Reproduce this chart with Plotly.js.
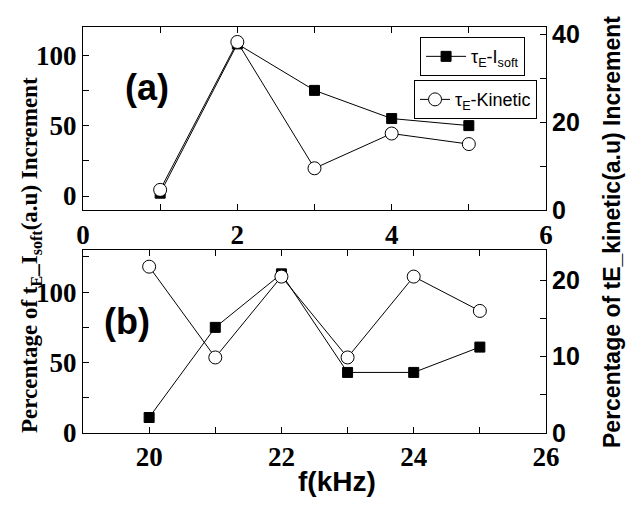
<!DOCTYPE html>
<html>
<head>
<meta charset="utf-8">
<script src="https://cdn.plot.ly/plotly-3.0.1.min.js"></script>
<style>html,body{margin:0;padding:0;background:#fff;}#chart{width:630px;height:506px;}</style>
</head>
<body>
<div id="chart"></div>
<script>
// Panel (a)
const freqA = [1, 2, 3, 4, 5];
const isoftA = [2, 108, 75, 55, 50];
const kineticA = [4.6, 38.2, 9.5, 17.4, 15];
// Panel (b)
const freqB = [20, 21, 22, 23, 24, 25];
const isoftB = [11, 75, 113, 43, 43, 61];
const kineticB = [21.8, 9.9, 20.5, 9.9, 20.5, 16];

const sansFam = 'Liberation Sans, Arial, sans-serif';
const serifFam = 'Liberation Serif, Times New Roman, serif';

const serifBold = {family: serifFam, size: 27, color: '#000', weight: 'bold'};
const sansBold = {family: sansFam, size: 25, color: '#000', weight: 'bold'};

const lineStyle = {color: '#000', width: 1};
const sqMarker = {symbol: 'square', size: 10, color: '#000', line: {color: '#000', width: 1}};
const ciMarker = {symbol: 'circle', size: 13, color: '#fff', line: {color: '#000', width: 1}};

const traces = [
  {x: freqA, y: isoftA, xaxis: 'x', yaxis: 'y', mode: 'lines+markers', line: lineStyle, marker: sqMarker,
   name: '\u03c4<sub>E</sub>-I<sub>soft</sub>', legend: 'legend', showlegend: true},
  {x: freqA, y: kineticA, xaxis: 'x', yaxis: 'y2', mode: 'lines+markers', line: lineStyle, marker: ciMarker,
   name: '\u03c4<sub>E</sub>-Kinetic', legend: 'legend2', showlegend: true},
  {x: freqB, y: isoftB, xaxis: 'x2', yaxis: 'y3', mode: 'lines+markers', line: lineStyle, marker: sqMarker, showlegend: false},
  {x: freqB, y: kineticB, xaxis: 'x2', yaxis: 'y4', mode: 'lines+markers', line: lineStyle, marker: ciMarker, showlegend: false}
];

const axBase = {showline: true, linecolor: '#000', linewidth: 1, ticks: 'inside', ticklen: 6, tickcolor: '#000',
  showgrid: false, zeroline: false, fixedrange: true};

const layout = {
  width: 630, height: 506,
  margin: {l: 83, r: 84, t: 27, b: 73},
  paper_bgcolor: '#fff', plot_bgcolor: '#fff',
  showlegend: true,
  xaxis: Object.assign({}, axBase, {domain: [0, 1], anchor: 'y', range: [0, 6], dtick: 2, tick0: 0, mirror: 'ticks',
    minor: {dtick: 1, ticks: 'inside', ticklen: 6, tickcolor: '#000'}, tickfont: serifBold}),
  yaxis: Object.assign({}, axBase, {domain: [0.549, 1], anchor: 'x', range: [-10, 120], dtick: 50, tick0: 0,
    minor: {dtick: 25, ticks: 'inside', ticklen: 6, tickcolor: '#000'}, tickfont: serifBold}),
  yaxis2: Object.assign({}, axBase, {overlaying: 'y', side: 'right', anchor: 'x', range: [0, 41.6], dtick: 20, tick0: 0,
    minor: {dtick: 10, ticks: 'inside', ticklen: 6, tickcolor: '#000'}, tickfont: sansBold}),
  xaxis2: Object.assign({}, axBase, {domain: [0, 1], anchor: 'y3', range: [19, 26], dtick: 2, tick0: 20, mirror: 'ticks',
    minor: {dtick: 1, ticks: 'inside', ticklen: 6, tickcolor: '#000'}, tickfont: serifBold}),
  yaxis3: Object.assign({}, axBase, {domain: [0, 0.451], anchor: 'x2', range: [0, 130], dtick: 50, tick0: 0,
    minor: {dtick: 25, ticks: 'inside', ticklen: 6, tickcolor: '#000'}, tickfont: serifBold}),
  yaxis4: Object.assign({}, axBase, {overlaying: 'y3', side: 'right', anchor: 'x2', range: [0, 24], dtick: 10, tick0: 0,
    minor: {dtick: 5, ticks: 'inside', ticklen: 6, tickcolor: '#000'}, tickfont: sansBold}),
  legend: {x: 0.728, y: 0.975, xanchor: 'left', yanchor: 'top', bgcolor: '#fff', bordercolor: '#000', borderwidth: 1,
    font: {family: sansFam, size: 18, color: '#000'}, itemwidth: 40, tracegroupgap: 0},
  legend2: {x: 0.715, y: 0.869, xanchor: 'left', yanchor: 'top', bgcolor: '#fff', bordercolor: '#000', borderwidth: 1,
    font: {family: sansFam, size: 18, color: '#000'}, itemwidth: 30, tracegroupgap: 0},
  annotations: [
    {text: '(a)', xref: 'paper', yref: 'paper', x: (147 - 83) / 463, y: (433 - 87) / 406, xanchor: 'center', yanchor: 'middle',
     showarrow: false, font: {family: sansFam, size: 36, color: '#000', weight: 'bold'}},
    {text: '(b)', xref: 'paper', yref: 'paper', x: (127 - 83) / 463, y: (433 - 321) / 406, xanchor: 'center', yanchor: 'middle',
     showarrow: false, font: {family: sansFam, size: 36, color: '#000', weight: 'bold'}},
    {text: 'f(kHz)', xref: 'paper', yref: 'paper', x: (337 - 83) / 463, y: (433 - 482) / 406, xanchor: 'center', yanchor: 'middle',
     showarrow: false, font: {family: sansFam, size: 28, color: '#000', weight: 'bold'}},
    {text: 'Percentage of t<sub>E</sub>_I<sub>soft</sub>(a.u) Increment', xref: 'paper', yref: 'paper',
     x: (31 - 83) / 463, y: (433 - 255) / 406, xanchor: 'center', yanchor: 'middle', textangle: -90, showarrow: false,
     font: {family: serifFam, size: 23, color: '#000', weight: 'bold'}},
    {text: 'Percentage of tE_kinetic(a.u) Increment', xref: 'paper', yref: 'paper',
     x: (612 - 83) / 463, y: (433 - 232) / 406, xanchor: 'center', yanchor: 'middle', textangle: -90, showarrow: false,
     font: {family: sansFam, size: 23, color: '#000', weight: 'bold'}}
  ]
};

Plotly.newPlot('chart', traces, layout, {displayModeBar: false, staticPlot: true});
</script>
</body>
</html>
